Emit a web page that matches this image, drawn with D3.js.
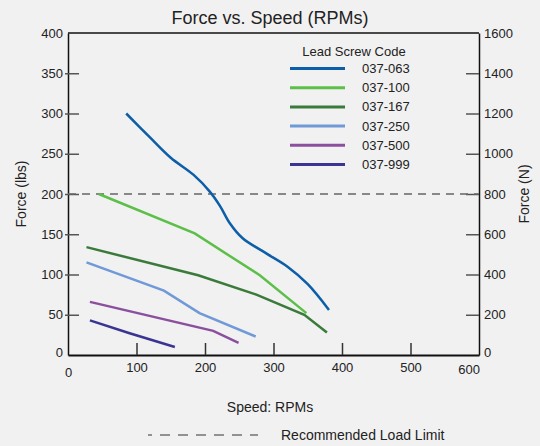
<!DOCTYPE html>
<html>
<head>
<meta charset="utf-8">
<script src="https://cdn.jsdelivr.net/npm/d3@7"></script>
<style>
    html, body { margin: 0; padding: 0; background: #f1f1f1; }
    svg { display: block; font-family: "Liberation Sans", Arial, sans-serif; }
</style>
</head>
<body>
<div id="chart"></div>
<script>
// 数据
const codes = ['037-063', '037-100', '037-167', '037-250', '037-500', '037-999'];
const speeds = [
    [85, 120, 150, 183, 207, 222, 236, 255, 290, 320, 350, 381],
    [45, 185, 280, 348],
    [27, 190, 275, 345, 378],
    [27, 140, 192, 274],
    [32, 212, 249],
    [32, 90, 156]
];
const forces = [
    [300, 270, 245, 224, 203, 185, 164, 145, 126, 110, 88, 56],
    [200, 151, 99, 52],
    [134, 99, 75, 50, 28],
    [115, 80, 52, 23],
    [66, 30, 15],
    [43, 27, 10]
];
const loadLimit = 200;
const speedTicks = [0, 100, 200, 300, 400, 500, 600];
const lbsTicks = [0, 50, 100, 150, 200, 250, 300, 350, 400];
const newtonTicks = [0, 200, 400, 600, 800, 1000, 1200, 1400, 1600];

const colors = ['#0c5ea8', '#5cbf48', '#3a7a3a', '#7099d8', '#8a4f9e', '#3b3592'];

const width = 540, height = 446;
const margin = { top: 33, right: 61, bottom: 91, left: 68 };

const svg = d3.select('#chart')
    .append('svg')
    .attr('width', width)
    .attr('height', height);

// 比例尺
const x = d3.scaleLinear()
    .domain([0, 600])
    .range([margin.left, width - margin.right]);
const y = d3.scaleLinear()
    .domain([0, 400])
    .range([height - margin.bottom, margin.top]);
const yN = d3.scaleLinear()
    .domain([0, 1600])
    .range([height - margin.bottom, margin.top]);

const textColor = '#222';

// 标题
svg.append('text')
    .attr('x', 270)
    .attr('y', 24)
    .attr('text-anchor', 'middle')
    .attr('fill', textColor)
    .style('font-size', '18px')
    .text('Force vs. Speed (RPMs)');

// 左轴
const leftAxis = svg.append('g')
    .attr('transform', `translate(${margin.left},0)`)
    .call(d3.axisLeft(y).tickValues(lbsTicks).tickSize(0).tickPadding(5).tickFormat(d3.format('d')));
leftAxis.select('.domain').attr('stroke', '#111').attr('stroke-width', 1.5);
leftAxis.selectAll('text').style('font-size', '13px').attr('fill', textColor);
leftAxis.selectAll('.tick')
    .filter(d => d > 0 && d < 400)
    .append('line')
    .attr('x1', -3)
    .attr('x2', 11)
    .attr('stroke', '#555')
    .attr('stroke-width', 1.5);
leftAxis.selectAll('.tick')
    .filter(d => d === 0)
    .select('text')
    .attr('dy', '0.1em');

// 右轴
const rightAxis = svg.append('g')
    .attr('transform', `translate(${width - margin.right},0)`)
    .call(d3.axisRight(yN).tickValues(newtonTicks).tickSize(0).tickPadding(5).tickFormat(d3.format('d')));
rightAxis.select('.domain').attr('stroke', '#111').attr('stroke-width', 1.5);
rightAxis.selectAll('text').style('font-size', '13px').attr('fill', textColor);
rightAxis.selectAll('.tick')
    .filter(d => d > 0 && d < 1600)
    .append('line')
    .attr('x1', -13)
    .attr('x2', 0)
    .attr('stroke', '#555')
    .attr('stroke-width', 1.5);
rightAxis.selectAll('.tick')
    .filter(d => d === 0)
    .select('text')
    .attr('dy', '0.1em');

// 顶部边框
svg.append('line')
    .attr('x1', margin.left)
    .attr('x2', width - margin.right)
    .attr('y1', margin.top)
    .attr('y2', margin.top)
    .attr('stroke', '#111')
    .attr('stroke-width', 1.5);

// X轴
const bottomAxis = svg.append('g')
    .attr('transform', `translate(0,${height - margin.bottom})`)
    .call(d3.axisBottom(x).tickValues(speedTicks).tickSize(0).tickPadding(8));
bottomAxis.select('.domain').attr('stroke', '#111').attr('stroke-width', 2);
bottomAxis.selectAll('text').style('font-size', '13px').attr('fill', textColor);
bottomAxis.selectAll('.tick')
    .filter(d => d > 0 && d < 600)
    .append('line')
    .attr('y1', 0)
    .attr('y2', -12)
    .attr('stroke', '#333')
    .attr('stroke-width', 1.5);
bottomAxis.selectAll('.tick')
    .filter(d => d === 0)
    .select('text')
    .attr('dy', '1.05em');
bottomAxis.selectAll('.tick')
    .filter(d => d === 600)
    .select('text')
    .attr('dx', '-0.8em')
    .attr('dy', '0.85em');

// 轴标题
svg.append('text')
    .attr('transform', `translate(26,${y(200)}) rotate(-90)`)
    .attr('text-anchor', 'middle')
    .attr('fill', textColor)
    .style('font-size', '14px')
    .text('Force (lbs)');

svg.append('text')
    .attr('transform', `translate(529,${y(200)}) rotate(-90)`)
    .attr('text-anchor', 'middle')
    .attr('fill', textColor)
    .style('font-size', '14px')
    .text('Force (N)');

svg.append('text')
    .attr('x', 270)
    .attr('y', 412)
    .attr('text-anchor', 'middle')
    .attr('fill', textColor)
    .style('font-size', '14px')
    .text('Speed: RPMs');

// 推荐负载线
svg.append('line')
    .attr('x1', margin.left)
    .attr('x2', width - margin.right)
    .attr('y1', y(loadLimit))
    .attr('y2', y(loadLimit))
    .attr('stroke', '#666')
    .attr('stroke-width', 1.5)
    .attr('stroke-dasharray', '8,6');

// 曲线
codes.forEach((code, i) => {
    const pts = speeds[i].map((s, j) => [s, forces[i][j]]);
    const line = d3.line()
        .x(d => x(d[0]))
        .y(d => y(d[1]))
        .curve(i === 0 ? d3.curveCatmullRom.alpha(0.5) : d3.curveLinear);
    svg.append('path')
        .datum(pts)
        .attr('d', line)
        .attr('fill', 'none')
        .attr('stroke', colors[i])
        .attr('stroke-width', 2.5);
});

// 图例
svg.append('text')
    .attr('x', 354)
    .attr('y', 56)
    .attr('text-anchor', 'middle')
    .attr('fill', textColor)
    .style('font-size', '13px')
    .text('Lead Screw Code');

const legend = svg.selectAll('.legend-item')
    .data(codes)
    .enter()
    .append('g')
    .attr('class', 'legend-item')
    .attr('transform', (d, i) => `translate(290,${68.5 + i * 19.2})`);

legend.append('line')
    .attr('x1', 0)
    .attr('x2', 55)
    .attr('stroke', (d, i) => colors[i])
    .attr('stroke-width', 3);

legend.append('text')
    .attr('x', 72)
    .attr('dy', '0.35em')
    .attr('fill', textColor)
    .style('font-size', '13px')
    .text(d => d);

// 底部图例
svg.append('line')
    .attr('x1', 148)
    .attr('x2', 258)
    .attr('y1', 435)
    .attr('y2', 435)
    .attr('stroke', '#333')
    .attr('stroke-width', 1)
    .attr('stroke-dasharray', '10,8')
    .attr('stroke-dashoffset', 6);

svg.append('text')
    .attr('x', 281)
    .attr('y', 440)
    .attr('fill', textColor)
    .style('font-size', '14px')
    .text('Recommended Load Limit');
</script>
</body>
</html>
